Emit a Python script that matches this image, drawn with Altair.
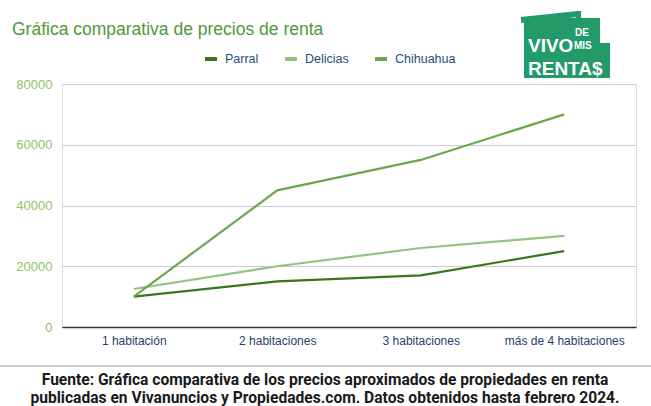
import altair as alt
import pandas as pd

categorias = ["1 habitación", "2 habitaciones", "3 habitaciones", "más de 4 habitaciones"]
parral = [10000, 15000, 17000, 25000]
delicias = [12500, 20000, 26000, 30000]
chihuahua = [10000, 45000, 55000, 70000]
series = ["Parral", "Delicias", "Chihuahua"]
colores = ["#38761d", "#93c47d", "#6aa84f"]
titulo = "Gráfica comparativa de precios de renta"
fuente1 = "Fuente: Gráfica comparativa de los precios aproximados de propiedades en renta"
fuente2 = "publicadas en Vivanuncios y Propiedades.com. Datos obtenidos hasta febrero 2024."
logo_palabras = ["VIVO", "DE", "MIS", "RENTA$"]

rows = []
for name, vals in zip(series, [parral, delicias, chihuahua]):
    for c, v in zip(categorias, vals):
        rows.append({"cat": c, "valor": v, "serie": name})
df = pd.DataFrame(rows)

W, H = 574, 243
FONT = "Liberation Sans"

lines = alt.Chart(df).mark_line(strokeWidth=2.2).encode(
    x=alt.X("cat:N", sort=categorias, title=None,
            scale=alt.Scale(paddingInner=0, paddingOuter=0.5),
            axis=alt.Axis(labelAngle=0, ticks=False, domainColor="#333333", domainWidth=1.3,
                          labelColor="#1f3f6b", labelFont=FONT, labelFontSize=12, labelPadding=8,
                          grid=False)),
    y=alt.Y("valor:Q", title=None,
            scale=alt.Scale(domain=[0, 80000]),
            axis=alt.Axis(values=[0, 20000, 40000, 60000, 80000], format="d", domain=False, ticks=False,
                          labelColor="#8fbf6a", labelFont=FONT, labelFontSize=13, labelPadding=10,
                          gridColor="#cccccc")),
    color=alt.Color("serie:N", scale=alt.Scale(domain=series, range=colores), title=None,
                    legend=alt.Legend(orient="none", legendX=141, legendY=-33, direction="horizontal",
                                      symbolType="M-1,0L1,0", symbolStrokeWidth=4, symbolSize=144,
                                      labelColor="#1f4e79", labelFont=FONT, labelFontSize=12.5,
                                      columnPadding=18, symbolOffset=0, labelOffset=6)),
    order=alt.Order("serie:N"),
)

one = pd.DataFrame({"t": [titulo]})
title_mk = alt.Chart(one).mark_text(align="left", baseline="alphabetic", font=FONT, fontSize=17.5,
                                    color="#4e9a37").encode(
    x=alt.value(-50), y=alt.value(-49), text="t:N")

def cap_layer(txt, y):
    d = pd.DataFrame({"t": [txt]})
    return alt.Chart(d).mark_text(align="center", baseline="alphabetic", font="Roboto",
                                  fontWeight="bold", fontSize=15.6, color="#1a1a1a").encode(
        x=alt.value(263), y=alt.value(y), text="t:N")

cap1 = cap_layer(fuente1, 301)
cap2 = cap_layer(fuente2, 319)

sep = alt.Chart(one).mark_rule(color="#bbbbbb", strokeWidth=1.5).encode(
    x=alt.value(-62), x2=alt.value(589), y=alt.value(282))

# logo (decoration)
LOGO = "#229a6a"
body1 = alt.Chart(one).mark_rect(color=LOGO).encode(
    x=alt.value(462), x2=alt.value(538), y=alt.value(-66), y2=alt.value(-6))
body2 = alt.Chart(one).mark_rect(color=LOGO).encode(
    x=alt.value(537), x2=alt.value(548), y=alt.value(-41), y2=alt.value(-6))
roof = alt.Chart(one).mark_rule(color=LOGO, strokeWidth=6).encode(
    x=alt.value(459), x2=alt.value(516), y=alt.value(-64), y2=alt.value(-70))
body3 = alt.Chart(one).mark_rect(color=LOGO).encode(
    x=alt.value(514), x2=alt.value(519), y=alt.value(-73), y2=alt.value(-64))

def logo_text(txt, x, y, s):
    d = pd.DataFrame({"t": [txt]})
    return alt.Chart(d).mark_text(align="left", baseline="alphabetic", color="white",
                                  font=FONT, fontWeight="bold", fontSize=s).encode(
        x=alt.value(x), y=alt.value(y), text="t:N")

lt1 = logo_text(logo_palabras[0], 466, -32, 19)
lt2 = logo_text(logo_palabras[1], 513, -48, 10)
lt3 = logo_text(logo_palabras[2], 512, -35, 10)
lt4 = logo_text(logo_palabras[3], 466, -9, 19)

chart = alt.layer(lines, title_mk, cap1, cap2, sep, body1, body2, roof, body3, lt1, lt2, lt3, lt4).properties(
    width=W, height=H,
    autosize=alt.AutoSizeParams(type="none"),
    padding={"left": 62, "top": 84, "right": 15, "bottom": 79},
).configure_view(stroke=None).configure(background="white")

chart.save("out.html", embed_options={"renderer": "svg", "actions": False})
